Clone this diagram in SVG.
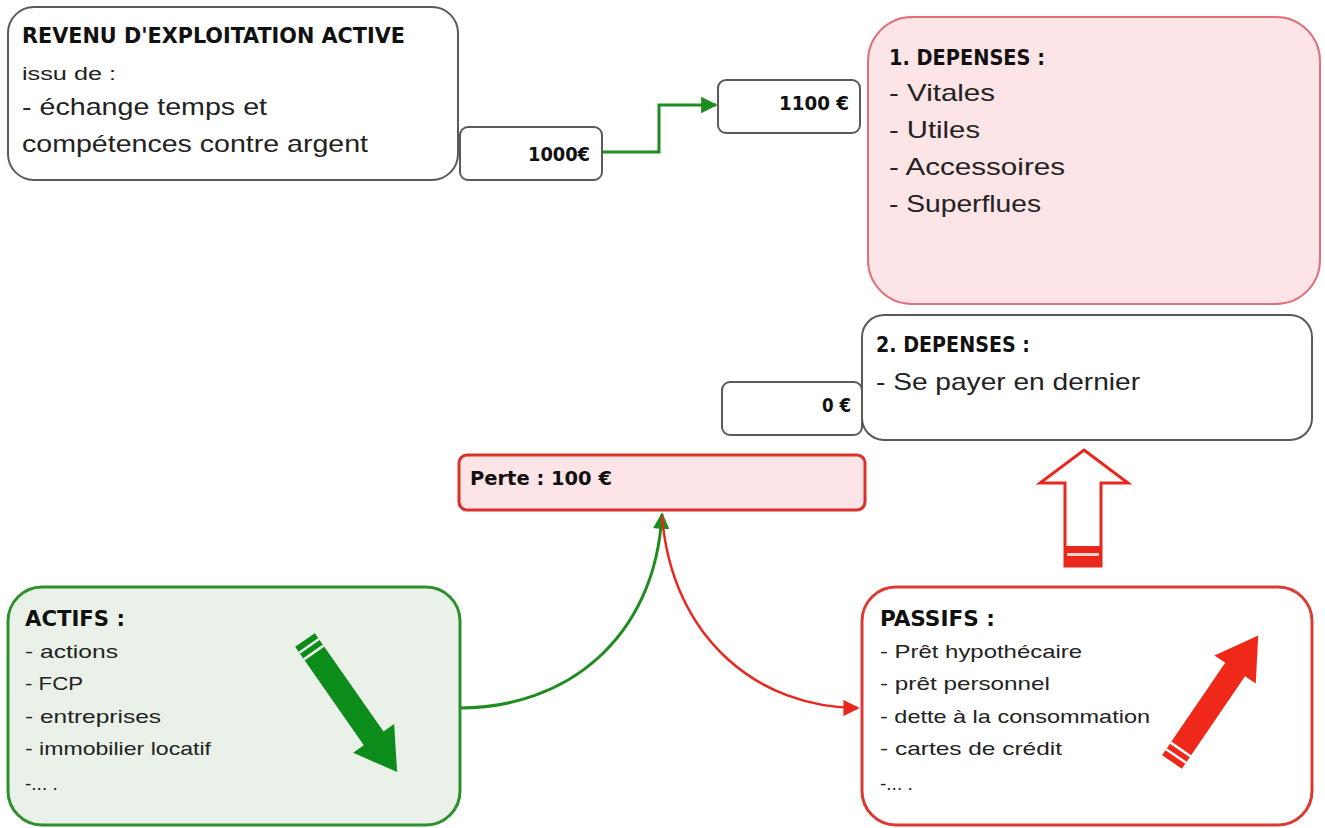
<svg xmlns="http://www.w3.org/2000/svg" width="1325" height="828" viewBox="0 0 1325 828">
  <defs>
    <style>
      .box { fill: #ffffff; stroke: #5a5a5a; stroke-width: 2; }
      .pink { fill: #fde4e6; stroke: #e0707a; stroke-width: 2; }
      .perte { fill: #fde4e6; stroke: #d8322a; stroke-width: 3; }
      .green-box { fill: #e9f1e8; stroke: #2f8f2f; stroke-width: 3; }
      .red-box { fill: #ffffff; stroke: #dc3a34; stroke-width: 3; }
      .hd { font-family: "Liberation Sans Narrow", "DejaVu Sans Condensed", sans-serif; font-weight: bold; fill: #111; }
      .tx { font-family: "Liberation Sans", Arial, sans-serif; fill: #222; }
      .big { font-size: 24px; }
      .mid { font-size: 19px; }
      .conn-g { fill: none; stroke: #1e8c1e; stroke-width: 3; }
      .conn-r { fill: none; stroke: #e8281c; stroke-width: 2.5; }
    </style>
    <marker id="ahG" viewBox="0 0 10 10" refX="9" refY="5" markerWidth="5.5" markerHeight="5.5" orient="auto" markerUnits="strokeWidth">
      <path d="M0,0 L10,5 L0,10 z" fill="#1e8c1e"/>
    </marker>
    <marker id="ahR" viewBox="0 0 10 10" refX="9" refY="5" markerWidth="6.5" markerHeight="6.5" orient="auto" markerUnits="strokeWidth">
      <path d="M0,0 L10,5 L0,10 z" fill="#e8281c"/>
    </marker>
  </defs>

  <rect width="1325" height="828" fill="#ffffff"/>

  <!-- connectors -->
  <g id="connectors">
    <path class="conn-g" d="M602,152 H659 V105 H716" marker-end="url(#ahG)"/>
    <path class="conn-g" d="M460,708 C565,708 655,640 662,514" marker-end="url(#ahG)"/>
    <path class="conn-r" d="M662,516 C672,640 760,708 858,708" marker-end="url(#ahR)"/>
  </g>

  <g id="revenu">
    <rect class="box" x="8" y="7" width="450" height="173" rx="26"/>
    <text class="hd" x="22" y="43" font-size="22" textLength="383" lengthAdjust="spacingAndGlyphs">REVENU D'EXPLOITATION ACTIVE</text>
    <text class="tx" x="22" y="80" font-size="18" textLength="94" lengthAdjust="spacingAndGlyphs">issu de :</text>
    <text class="tx big" x="22" y="115" textLength="245" lengthAdjust="spacingAndGlyphs">- échange temps et</text>
    <text class="tx big" x="22" y="152" textLength="346" lengthAdjust="spacingAndGlyphs">compétences contre argent</text>
  </g>

  <g id="montant-1000">
    <rect class="box" x="460" y="127" width="142" height="53" rx="8"/>
    <text class="hd" x="590" y="161" font-size="19" text-anchor="end" textLength="62" lengthAdjust="spacingAndGlyphs">1000€</text>
  </g>

  <g id="montant-1100">
    <rect class="box" x="718" y="80" width="142" height="53" rx="8"/>
    <text class="hd" x="849" y="110" font-size="19" text-anchor="end" textLength="70" lengthAdjust="spacingAndGlyphs">1100 €</text>
  </g>

  <g id="depenses-1">
    <rect class="pink" x="868" y="17" width="452" height="287" rx="44"/>
    <text class="hd" x="889" y="65" font-size="22" textLength="156" lengthAdjust="spacingAndGlyphs">1. DEPENSES :</text>
    <text class="tx big" x="889" y="101" textLength="106" lengthAdjust="spacingAndGlyphs">- Vitales</text>
    <text class="tx big" x="889" y="138" textLength="91" lengthAdjust="spacingAndGlyphs">- Utiles</text>
    <text class="tx big" x="889" y="175" textLength="176" lengthAdjust="spacingAndGlyphs">- Accessoires</text>
    <text class="tx big" x="889" y="212" textLength="152" lengthAdjust="spacingAndGlyphs">- Superflues</text>
  </g>

  <g id="depenses-2">
    <rect class="box" x="862" y="315" width="450" height="125" rx="22"/>
    <text class="hd" x="876" y="352" font-size="22" textLength="154" lengthAdjust="spacingAndGlyphs">2. DEPENSES :</text>
    <text class="tx big" x="876" y="390" textLength="264" lengthAdjust="spacingAndGlyphs">- Se payer en dernier</text>
  </g>

  <g id="montant-0">
    <rect class="box" x="722" y="382" width="140" height="53" rx="8"/>
    <text class="hd" x="851" y="412" font-size="19" text-anchor="end" textLength="29" lengthAdjust="spacingAndGlyphs">0 €</text>
  </g>

  <g id="perte">
    <rect class="perte" x="459" y="455" width="406" height="55" rx="8"/>
    <text class="hd" x="470" y="485" font-size="19" textLength="142" lengthAdjust="spacingAndGlyphs">Perte : 100 €</text>
  </g>

  <!-- hollow upward arrow between Passifs and 2. Dépenses -->
  <g id="fleche-haut">
    <path d="M1084,450 L1128,483 L1101,483 L1101,566 L1065,566 L1065,483 L1040,483 Z" fill="#ffffff" stroke="#e8281c" stroke-width="3" stroke-linejoin="miter"/>
    <rect x="1065" y="546" width="36" height="21" fill="#e8281c"/>
    <rect x="1067" y="553" width="32" height="3" fill="#fbd0cc"/>
  </g>

  <g id="actifs">
    <rect class="green-box" x="8" y="587" width="452" height="238" rx="34"/>
    <text class="hd" x="25" y="626" font-size="21" textLength="100" lengthAdjust="spacingAndGlyphs">ACTIFS :</text>
    <text class="tx mid" x="25" y="658" textLength="93" lengthAdjust="spacingAndGlyphs">- actions</text>
    <text class="tx mid" x="25" y="690" textLength="58" lengthAdjust="spacingAndGlyphs">- FCP</text>
    <text class="tx mid" x="25" y="723" textLength="136" lengthAdjust="spacingAndGlyphs">- entreprises</text>
    <text class="tx mid" x="25" y="755" textLength="186" lengthAdjust="spacingAndGlyphs">- immobilier locatif</text>
    <text class="tx mid" x="25" y="790">-... .</text>
    <!-- green arrow pointing down-right -->
    <g transform="translate(305,640) rotate(55.1)">
      <path d="M0,-12 L120,-12 L120,-25 L161,0 L120,25 L120,12 L0,12 Z" fill="#0c8c1a"/>
      <rect x="6" y="-12" width="2.5" height="24" fill="#e9f1e8"/>
      <rect x="14" y="-12" width="2.5" height="24" fill="#e9f1e8"/>
    </g>
  </g>

  <g id="passifs">
    <rect class="red-box" x="862" y="587" width="450" height="238" rx="34"/>
    <text class="hd" x="880" y="626" font-size="21" textLength="115" lengthAdjust="spacingAndGlyphs">PASSIFS :</text>
    <text class="tx mid" x="880" y="658" textLength="202" lengthAdjust="spacingAndGlyphs">- Prêt hypothécaire</text>
    <text class="tx mid" x="880" y="690" textLength="170" lengthAdjust="spacingAndGlyphs">- prêt personnel</text>
    <text class="tx mid" x="880" y="723" textLength="270" lengthAdjust="spacingAndGlyphs">- dette à la consommation</text>
    <text class="tx mid" x="880" y="755" textLength="182" lengthAdjust="spacingAndGlyphs">- cartes de crédit</text>
    <text class="tx mid" x="880" y="790">-... .</text>
    <!-- red arrow pointing up-right -->
    <g transform="translate(1172,762) rotate(-55.7)">
      <path d="M0,-12 L112,-12 L112,-25 L153,0 L112,25 L112,12 L0,12 Z" fill="#f0281a"/>
      <rect x="6" y="-12" width="2.5" height="24" fill="#ffffff"/>
      <rect x="14" y="-12" width="2.5" height="24" fill="#ffffff"/>
    </g>
  </g>
</svg>
